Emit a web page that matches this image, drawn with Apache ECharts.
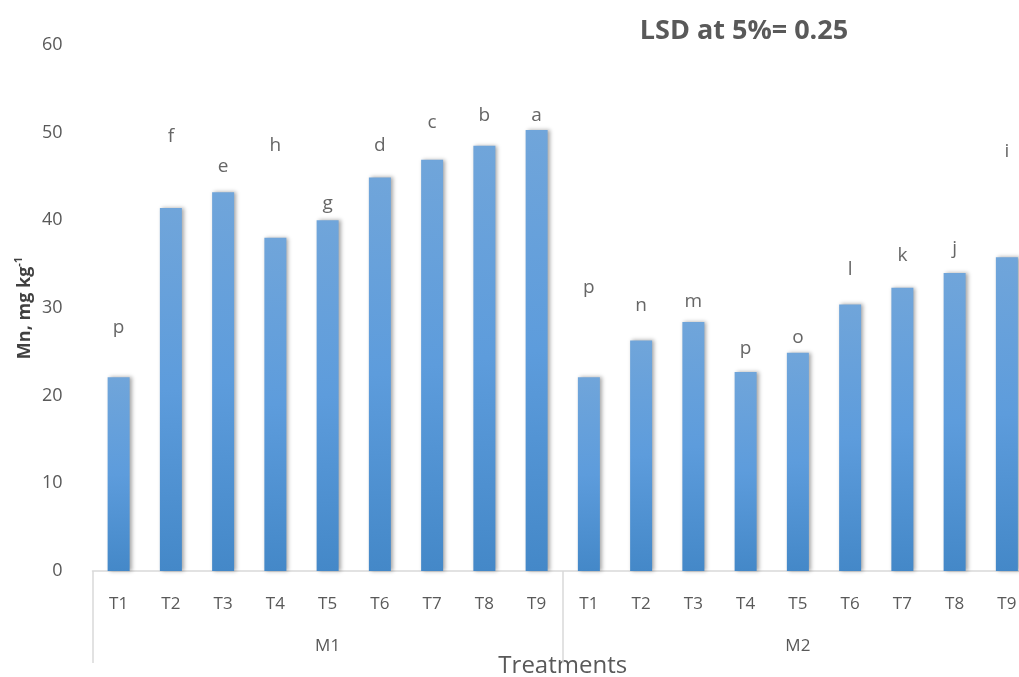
<!DOCTYPE html>
<html>
<head>
<meta charset="utf-8">
<script src="https://cdn.jsdelivr.net/npm/echarts@6/dist/echarts.min.js"></script>
<style>html,body{margin:0;padding:0;background:#fff}#c{width:1019px;height:677px}</style>
</head>
<body>
<div id="c"></div>
<script>
const treatments = ['T1','T2','T3','T4','T5','T6','T7','T8','T9'];
const groups = ['M1','M2'];
const m1Values = [22.1, 41.4, 43.2, 38.0, 40.0, 44.9, 46.9, 48.5, 50.3];
const m2Values = [22.1, 26.3, 28.4, 22.7, 24.9, 30.4, 32.3, 34.0, 35.8];
const m1Letters = ['p','f','e','h','g','d','c','b','a'];
const m2Letters = ['p','n','m','p','o','l','k','j','i'];
const m1LetterY = [27.8, 49.5, 46.1, 48.5, 41.9, 48.5, 51.1, 52.0, 52.0];
const m2LetterY = [32.3, 30.3, 30.7, 25.4, 26.6, 34.4, 36.0, 36.8, 47.8];
const yTicks = [0, 10, 20, 30, 40, 50, 60];

const categories = treatments.concat(treatments);
const barValues = m1Values.concat(m2Values);
const letters = m1Letters.concat(m2Letters);
const letterY = m1LetterY.concat(m2LetterY);

const font = '"Open Sans", "Noto Sans", sans-serif';
const chart = echarts.init(document.getElementById('c'), null, {renderer: 'canvas'});
chart.setOption({
  animation: false,
  backgroundColor: '#ffffff',
  title: {
    text: 'LSD at 5%= 0.25',
    left: 739, top: 13, textAlign: 'center',
    textStyle: {fontFamily: font, fontSize: 27, fontWeight: 'bold', color: '#595959'}
  },
  grid: {left: 92.5, top: 45, width: 940.5, height: 526, containLabel: false, outerBoundsMode: 'none'},
  xAxis: [{
    type: 'category', data: categories, position: 'bottom',
    axisLine: {show: true, lineStyle: {color: '#d9d9d9', width: 1.5}},
    axisTick: {show: false},
    axisLabel: {margin: 25, fontFamily: font, fontSize: 17, color: '#595959', interval: 0}
  }, {
    type: 'category', data: groups, position: 'bottom',
    axisLine: {show: false},
    axisTick: {show: true, length: 92, lineStyle: {color: '#d9d9d9', width: 1.5}},
    axisLabel: {margin: 67, fontFamily: font, fontSize: 17, color: '#595959'},
    name: 'Treatments', nameLocation: 'middle', nameGap: 83, nameMoveOverlap: false,
    nameTextStyle: {fontFamily: font, fontSize: 24, color: '#595959'}
  }],
  yAxis: {
    type: 'value', min: yTicks[0], max: yTicks[yTicks.length - 1], interval: 10,
    axisLine: {show: false}, axisTick: {show: false}, splitLine: {show: false},
    axisLabel: {margin: 30, fontFamily: font, fontSize: 18, color: '#595959'},
    name: '{b|Mn, mg kg}{s|-1}', nameLocation: 'middle', nameGap: 56, nameRotate: 90, nameMoveOverlap: false,
    nameTextStyle: {
      rich: {
        b: {fontFamily: font, fontSize: 18, fontWeight: 'bold', color: '#404040'},
        s: {fontFamily: font, fontSize: 11, fontWeight: 'bold', color: '#404040', verticalAlign: 'top', padding: [0, 0, 12, 0]}
      }
    }
  },
  series: [{
    type: 'bar', xAxisIndex: 0, data: barValues, barWidth: 22,
    itemStyle: {
      color: new echarts.graphic.LinearGradient(0, 0, 0, 1, [
        {offset: 0, color: '#70a5da'},
        {offset: 0.5, color: '#5d9cdc'},
        {offset: 1, color: '#4488c8'}
      ]),
      shadowColor: 'rgba(0,0,0,0.35)', shadowBlur: 4, shadowOffsetX: 2, shadowOffsetY: 0
    }
  }, {
    type: 'scatter', xAxisIndex: 0, data: letterY, symbolSize: 0,
    label: {
      show: true, position: [0, 0], align: 'center', verticalAlign: 'middle',
      formatter: p => letters[p.dataIndex],
      fontFamily: font, fontSize: 19, color: '#404040'
    }
  }]
});
</script>
</body>
</html>
